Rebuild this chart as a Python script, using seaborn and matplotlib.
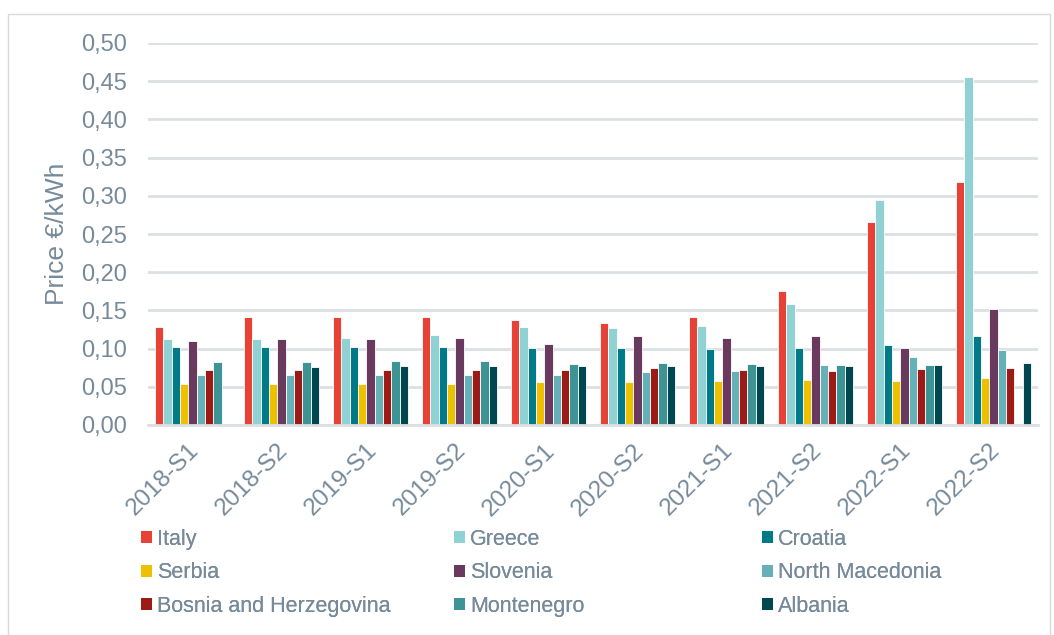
import numpy as np
import pandas as pd
import matplotlib
matplotlib.use("Agg")
import matplotlib.pyplot as plt
import matplotlib.transforms as mtransforms
from matplotlib.patches import Patch, Rectangle
from matplotlib.ticker import FuncFormatter, MultipleLocator
import seaborn as sns

# Semester labels
periods = ["2018-S1", "2018-S2", "2019-S1", "2019-S2", "2020-S1",
           "2020-S2", "2021-S1", "2021-S2", "2022-S1", "2022-S2"]

# Household electricity price per country (EUR/kWh)
italy      = [0.128, 0.141, 0.142, 0.142, 0.137, 0.133, 0.142, 0.175, 0.266, 0.318]
greece     = [0.113, 0.112, 0.114, 0.118, 0.128, 0.127, 0.130, 0.158, 0.294, 0.456]
croatia    = [0.102, 0.102, 0.102, 0.102, 0.101, 0.101, 0.100, 0.101, 0.105, 0.116]
serbia     = [0.054, 0.054, 0.054, 0.054, 0.056, 0.056, 0.057, 0.059, 0.058, 0.061]
slovenia   = [0.110, 0.112, 0.112, 0.114, 0.106, 0.117, 0.114, 0.117, 0.101, 0.152]
n_macedonia= [0.066, 0.066, 0.066, 0.066, 0.066, 0.070, 0.071, 0.079, 0.089, 0.098]
bosnia     = [0.072, 0.072, 0.072, 0.072, 0.072, 0.074, 0.072, 0.071, 0.073, 0.074]
montenegro = [0.083, 0.082, 0.084, 0.084, 0.080, 0.081, 0.080, 0.079, 0.079, np.nan]
albania    = [np.nan, 0.076, 0.077, 0.077, 0.077, 0.077, 0.077, 0.077, 0.078, 0.081]

countries = ["Italy", "Greece", "Croatia", "Serbia", "Slovenia",
             "North Macedonia", "Bosnia and Herzegovina", "Montenegro", "Albania"]
series = [italy, greece, croatia, serbia, slovenia, n_macedonia, bosnia, montenegro, albania]
colors = ["#E84136", "#90D2D3", "#007A87", "#EDC000", "#6A3A5E",
          "#66B1B8", "#9C1B17", "#3E9494", "#00474F"]

df = pd.DataFrame(
    [(p, c, v) for c, vals in zip(countries, series) for p, v in zip(periods, vals)],
    columns=["period", "country", "price"],
)

sns.set_theme(style="white")
plt.rcParams["font.family"] = ["Liberation Sans", "DejaVu Sans"]

text_color = "#768A9A"
grid_color = "#DCE0E4"

fig = plt.figure(figsize=(10.54, 6.35), dpi=100)
ax = fig.add_axes([148 / 1054, 1 - 425 / 635, 890 / 1054, 382 / 635])

sns.barplot(
    data=df, x="period", y="price", hue="country",
    order=periods, hue_order=countries, palette=colors,
    width=0.84, saturation=1, errorbar=None,
    edgecolor="white", linewidth=0.6, ax=ax, legend=False,
)

ax.set_ylim(0, 0.5)
ax.set_xlim(-0.5, len(periods) - 0.5)
ax.yaxis.set_major_locator(MultipleLocator(0.05))
ax.yaxis.set_major_formatter(FuncFormatter(lambda v, _: f"{v:.2f}".replace(".", ",")))
ax.grid(axis="y", color=grid_color, linewidth=2)
ax.set_axisbelow(True)
for side in ["top", "right", "left"]:
    ax.spines[side].set_visible(False)
ax.spines["bottom"].set_color(grid_color)
ax.spines["bottom"].set_linewidth(2)

ax.tick_params(axis="y", length=0, pad=15, labelsize=17, labelcolor=text_color)
ax.tick_params(axis="x", length=0, pad=9, labelsize=17.5, labelcolor=text_color)
shift = mtransforms.ScaledTranslation(-5 / 100, -2 / 100, fig.dpi_scale_trans)
for lbl in ax.get_xticklabels():
    lbl.set_rotation(45)
    lbl.set_ha("right")
    lbl.set_rotation_mode("anchor")
    lbl.set_transform(lbl.get_transform() + shift)

ax.set_xlabel("")
ax.set_ylabel("Price €/kWh", fontsize=19, color=text_color)
ax.yaxis.set_label_coords(-0.089, 0.5)

# Legend laid out as three equally spaced columns
col_x = [141 / 1054, 454 / 1054, 762 / 1054]
for j in range(3):
    idx = [j, j + 3, j + 6]
    handles = [Patch(facecolor=colors[i], edgecolor="none") for i in idx]
    leg = fig.legend(
        handles, [countries[i] for i in idx],
        loc="upper left", bbox_to_anchor=(col_x[j], 1 - 529 / 635),
        frameon=False, fontsize=15.5, labelcolor=text_color,
        handlelength=0.5, handleheight=0.5, handletextpad=0.25,
        labelspacing=0.58, borderpad=0, borderaxespad=0,
    )
    fig.add_artist(leg)

# Light frame around the chart area
fig.add_artist(Rectangle((8 / 1054, -0.01), 1042 / 1054, 1 - 14 / 635 + 0.01,
                         transform=fig.transFigure, fill=False,
                         edgecolor="#D9D9D9", linewidth=1))

fig.savefig("out.png", dpi=100)
